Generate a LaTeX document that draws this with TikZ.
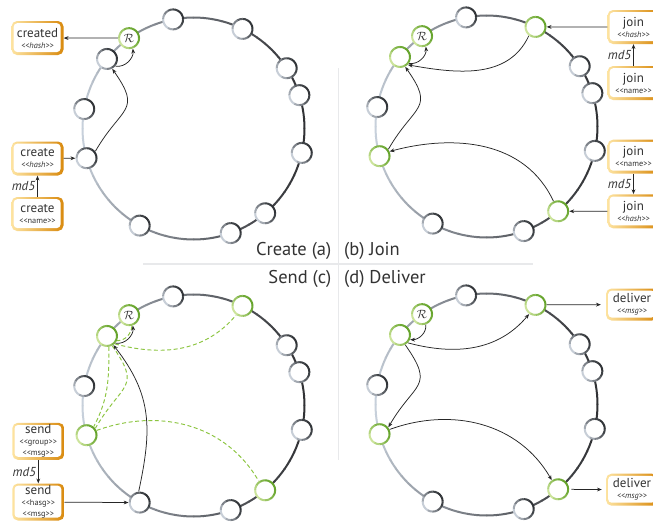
\documentclass[tikz,border=0pt]{standalone}
\usepackage{fontspec}
\setmainfont{PT Sans}
\usetikzlibrary{arrows.meta}
\definecolor{ringlight}{HTML}{C9D2DD}
\definecolor{ringdark}{HTML}{303134}
\definecolor{nlight}{HTML}{D3DAE3}
\definecolor{ndark}{HTML}{2E3135}
\definecolor{glight}{HTML}{D4E9A3}
\definecolor{gdark}{HTML}{64A32A}
\definecolor{dashgreen}{HTML}{8CC540}
\definecolor{boxlight}{HTML}{FDE3A0}
\definecolor{boxdark}{HTML}{D98A0E}
\definecolor{txt}{HTML}{333333}
\definecolor{arr}{HTML}{262626}
\definecolor{sepcol}{HTML}{E8E9EB}
\tikzset{
  ringnode/.style={circle, minimum size=20pt, inner sep=0pt, outer sep=1.2pt, fill=white, text=txt, font=\fontsize{13}{13}\selectfont},
  msgbox/.style={rounded corners=5.5pt, minimum width=52pt, minimum height=34pt, inner sep=0pt, align=center, left color=boxlight, right color=boxdark, text=txt, font=\fontsize{13}{13}\selectfont,
    path picture={\fill[white, rounded corners=3.5pt] ([xshift=2.2pt,yshift=3pt]path picture bounding box.south west) rectangle ([xshift=-3pt,yshift=-2.2pt]path picture bounding box.north east);}},
  conn/.style={draw=arr, line width=0.75pt, -{Stealth[length=4.8pt,width=3.8pt]}},
  dashg/.style={draw=dashgreen, line width=0.95pt, dash pattern=on 4pt off 2.6pt},
  md5lbl/.style={font=\fontsize{13}{13}\selectfont\itshape, text=txt, anchor=east, inner sep=0pt},
  caption/.style={font=\fontsize{18.5}{18.5}\selectfont, text=txt, inner sep=0pt},
}
\newcommand\sm[1]{\\[-2pt]{\fontsize{8.3}{9}\selectfont #1}}
\newcommand\ringarc[2]{%
  \foreach \t in {0,5,...,355}{
    \pgfmathtruncatemacro\dd{100*((1.002+cos(\t+2.5))/2)^0.7}
    \pgfmathsetmacro\sx{#1+193.5+111*cos(\t)}
    \pgfmathsetmacro\sy{-(#2+128.5)+111*sin(\t)}
    \draw[line width=2pt, draw=ringdark!\dd!ringlight] (\sx,\sy) arc[start angle=\t, end angle=\t+5.3, radius=111pt];
  }
}
\newcommand\rn[6]{%
  \pgfmathsetmacro\cx{#3+193.5+111*cos(#2)}
  \pgfmathsetmacro\cy{-(#4+128.5)+111*sin(#2)}
  \node[ringnode] (#1) at (\cx,\cy) {#6};
  \foreach \s in {0,30,...,330}{
    \pgfmathtruncatemacro\dd{100*((1.002+cos(\s+15-30))/2)^0.65}
    \pgfmathsetmacro\ax{\cx+10*cos(\s)}
    \pgfmathsetmacro\ay{\cy+10*sin(\s)}
    \draw[line width=2pt, draw=#5dark!\dd!#5light] (\ax,\ay) arc[start angle=\s, end angle=\s+31, radius=10pt];
  }
}
\newcommand\panel[8]{%
  \ringarc{#1}{#2}
  \rn{#3R}{125.5}{#1}{#2}{#4}{$\mathcal{R}$}
  \rn{#3A}{141.2}{#1}{#2}{#5}{}
  \rn{#3B}{169.9}{#1}{#2}{n}{}
  \rn{#3C}{195.5}{#1}{#2}{#6}{}
  \rn{#3D}{241}{#1}{#2}{n}{}
  \rn{#3E}{289.6}{#1}{#2}{n}{}
  \rn{#3F}{310.2}{#1}{#2}{#7}{}
  \rn{#3G}{347.3}{#1}{#2}{n}{}
  \rn{#3H}{17.5}{#1}{#2}{n}{}
  \rn{#3I}{32.9}{#1}{#2}{n}{}
  \rn{#3J}{63.8}{#1}{#2}{#8}{}
  \rn{#3K}{100.6}{#1}{#2}{n}{}
}
\begin{document}
\begin{tikzpicture}[x=1pt,y=1pt]
\useasboundingbox (0,0) rectangle (653,-522);
\clip (0,0) rectangle (653,-522);
\fill[white] (0,0) rectangle (653,-522);
% separators
\draw[sepcol, line width=1.5pt] (143,-264) -- (533,-264);
\draw[sepcol, line width=1.5pt] (338.5,-68) -- (338.5,-460);
\node[caption, anchor=east] (capa) at (331.5,-250.7) {Create (a)};
\node[caption, anchor=west] (capb) at (344,-250.7) {(b) Join};
\node[caption, anchor=east] (capc) at (331.5,-279) {Send (c)};
\node[caption, anchor=west] (capd) at (344,-279) {(d) Deliver};
% rings
\panel{0}{0}{a}{g}{n}{n}{n}{n}
\panel{293}{-2}{b}{g}{g}{g}{g}{g}
\panel{0}{277}{c}{g}{g}{g}{g}{g}
\panel{293}{276}{d}{g}{g}{g}{g}{g}
% ---- panel a
\node[msgbox] (acreated) at (37.5,-38) {created\sm{\itshape <{}<hash>{}>}};
\node[msgbox] (acreateh) at (37.5,-158.5) {create\sm{\itshape <{}<hash>{}>}};
\node[msgbox] (acreaten) at (37.5,-214) {create\sm{<{}<name>{}>}};
\draw[conn] (aR) -- (acreated);
\draw[conn] (acreateh) -- (aC);
\draw[conn] (acreaten) -- (acreateh) node[md5lbl, midway, xshift=-2pt] {md5};
\draw[conn] (aC.38) to[out=60, in=-55, looseness=1.6] (aA.-62);
\draw[conn] (aA.-40) to[out=-10, in=-85] (aR.-70);
% ---- panel b
\node[msgbox] (bjh1) at (633.5,-27) {join\sm{\itshape <{}<hash>{}>}};
\node[msgbox] (bjn1) at (633.5,-83) {join\sm{<{}<name>{}>}};
\node[msgbox] (bjn2) at (633.5,-156.7) {join\sm{<{}<name>{}>}};
\node[msgbox] (bjh2) at (633.5,-211.3) {join\sm{\itshape <{}<hash>{}>}};
\draw[conn] (bjh1) -- (bJ);
\draw[conn] (bjh2) -- (bF);
\draw[conn] (bjn1) -- (bjh1) node[md5lbl, midway, xshift=-2pt] {md5};
\draw[conn] (bjn2) -- (bjh2) node[md5lbl, midway, xshift=-2pt] {md5};
\draw[conn] (bJ.233) to[out=245, in=-10] (bA.-45);
\draw[conn] (bA.-35) to[out=-10, in=-85] (bR.-70);
\draw[conn] (bC.38) to[out=60, in=-55, looseness=1.6] (bA.-62);
\draw[conn] (bF.115) to[out=115, in=15] (bC.25);
% ---- panel c
\node[msgbox, minimum height=37pt] (csgm) at (38.3,-441.3) {send\sm{<{}<group>{}>}\sm{<{}<msg>{}>}};
\node[msgbox, minimum height=37pt] (cshm) at (38.3,-502) {send\sm{<{}<hasg>{}>}\sm{<{}<msg>{}>}};
\draw[conn] (csgm) -- (cshm) node[md5lbl, midway, xshift=-2pt] {md5};
\draw[conn] (cshm) -- (cD);
\draw[dashg] (cR.-75) to[out=-95, in=0] (cA.-25);
\draw[dashg] (cA.-45) to[out=-15, in=230] (cJ.235);
\draw[dashg] (cA.-62) to[out=-55, in=60, looseness=1.6] (cC.38);
\draw[dashg] (cA.-80) to[out=-90, in=62] (cC.50);
\draw[dashg] (cC.25) to[out=20, in=120] (cF.125);
\draw[conn] (cD.95) to[out=78, in=-52, looseness=1.1] (cA.-55);
\draw[conn] (cA.-40) to[out=-10, in=-85] (cR.-70);
% ---- panel d
\node[msgbox, minimum height=32pt] (ddel1) at (632,-304.5) {deliver\sm{\itshape <{}<msg>{}>}};
\node[msgbox, minimum height=32pt] (ddel2) at (632,-489.7) {deliver\sm{\itshape <{}<msg>{}>}};
\draw[conn] (dR.-70) to[out=-85, in=0] (dA.-25);
\draw[conn] (dA.-45) to[out=-15, in=230] (dJ.235);
\draw[conn] (dA.-62) to[out=-55, in=60, looseness=1.6] (dC.38);
\draw[conn] (dC.25) to[out=20, in=120] (dF.125);
\draw[conn, shorten >=5pt] (dJ) -- (ddel1);
\draw[conn, shorten >=4pt, shorten <=2pt] (dF) -- (ddel2);
\end{tikzpicture}
\end{document}
